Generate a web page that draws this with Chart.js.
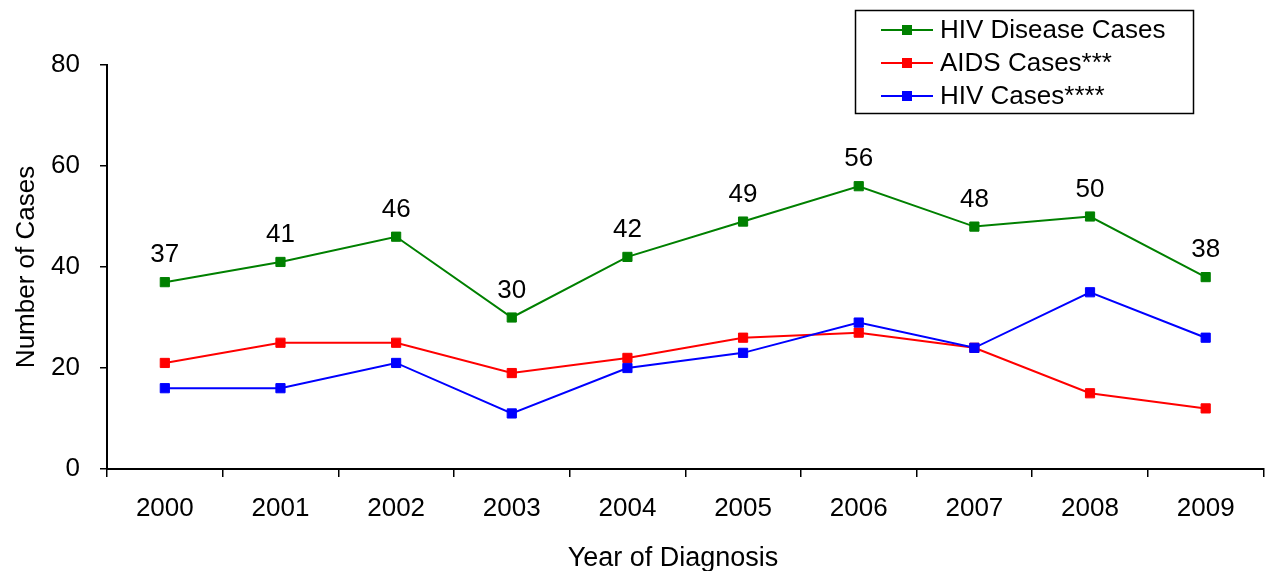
<!DOCTYPE html>
<html>
<head>
<meta charset="utf-8">
<title>HIV Disease, AIDS and HIV Cases by Year of Diagnosis</title>
<script src="https://cdn.jsdelivr.net/npm/chart.js@4/dist/chart.umd.min.js"></script>
<style>
  html, body { margin: 0; padding: 0; background: #ffffff; }
  #wrap { width: 1271px; height: 571px; }
</style>
</head>
<body>
<div id="wrap"><canvas id="chart" width="1271" height="571"></canvas></div>
<script>
// Year of diagnosis
const years = ['2000', '2001', '2002', '2003', '2004', '2005', '2006', '2007', '2008', '2009'];

// Case counts per year
const hivDiseaseCases = [37, 41, 46, 30, 42, 49, 56, 48, 50, 38];
const aidsCases       = [21, 25, 25, 19, 22, 26, 27, 24, 15, 12];
const hivCases        = [16, 16, 21, 11, 20, 23, 29, 24, 35, 26];

const seriesNames = ['HIV Disease Cases', 'AIDS Cases***', 'HIV Cases****'];
const seriesColors = ['#008000', '#ff0000', '#0000ff'];

const yTicks = [0, 20, 40, 60, 80];
const xTitle = 'Year of Diagnosis';
const yTitle = 'Number of Cases';

const FONT = '"Liberation Sans", Arial, Helvetica, sans-serif';
const FS = 26;

function makeSet(label, data, color, order) {
  return {
    label: label,
    data: data,
    borderColor: color,
    backgroundColor: color,
    borderWidth: 2,
    pointStyle: 'rect',
    pointRadius: 6.5,
    pointHoverRadius: 6.5,
    pointBorderWidth: 1,
    pointBorderColor: color,
    pointBackgroundColor: color,
    tension: 0,
    order: order
  };
}

// Value labels above the HIV Disease series
const valueLabels = {
  id: 'valueLabels',
  afterDatasetsDraw(chart) {
    const ctx = chart.ctx;
    const meta = chart.getDatasetMeta(0);
    const values = chart.data.datasets[0].data;
    ctx.save();
    ctx.font = FS + 'px ' + FONT;
    ctx.fillStyle = '#000000';
    ctx.textAlign = 'center';
    ctx.textBaseline = 'alphabetic';
    meta.data.forEach((pt, i) => {
      ctx.fillText(String(values[i]), pt.x, pt.y - 20);
    });
    ctx.restore();
  }
};

// Axis titles and the boxed legend
const decorations = {
  id: 'decorations',
  afterDraw(chart) {
    const ctx = chart.ctx;
    ctx.save();
    ctx.fillStyle = '#000000';

    // x axis title
    ctx.font = '27px ' + FONT;
    ctx.textAlign = 'center';
    ctx.textBaseline = 'alphabetic';
    ctx.fillText(xTitle, 673, 566);

    // y axis title
    ctx.font = FS + 'px ' + FONT;
    ctx.save();
    const area = chart.chartArea;
    ctx.translate(34, (area.top + area.bottom) / 2);
    ctx.rotate(-Math.PI / 2);
    ctx.textAlign = 'center';
    ctx.fillText(yTitle, 0, 0);
    ctx.restore();

    // legend box
    ctx.lineWidth = 1.5;
    ctx.strokeStyle = '#000000';
    ctx.strokeRect(855.5, 10.5, 338, 103);

    const rows = [30, 63, 96];
    chart.data.datasets.forEach((ds, i) => {
      const y = rows[i];
      ctx.strokeStyle = ds.borderColor;
      ctx.lineWidth = 2;
      ctx.beginPath();
      ctx.moveTo(881, y);
      ctx.lineTo(933, y);
      ctx.stroke();
      ctx.fillStyle = ds.borderColor;
      ctx.fillRect(902, y - 5, 10, 10);
      ctx.fillStyle = '#000000';
      ctx.textAlign = 'left';
      ctx.textBaseline = 'middle';
      ctx.fillText(ds.label, 940, y + 1);
    });
    ctx.restore();
  }
};

new Chart(document.getElementById('chart'), {
  type: 'line',
  data: {
    labels: years,
    datasets: [
      makeSet(seriesNames[0], hivDiseaseCases, seriesColors[0], 3),
      makeSet(seriesNames[1], aidsCases, seriesColors[1], 2),
      makeSet(seriesNames[2], hivCases, seriesColors[2], 1)
    ]
  },
  options: {
    responsive: false,
    animation: false,
    devicePixelRatio: 1,
    layout: { padding: { left: 0, top: 65, right: 1, bottom: 0 } },
    plugins: {
      legend: { display: false },
      tooltip: { enabled: false },
      title: { display: false }
    },
    scales: {
      x: {
        type: 'category',
        offset: true,
        afterFit(scale) { scale.height = 102; },
        grid: {
          display: true,
          offset: true,
          drawOnChartArea: false,
          drawTicks: true,
          tickLength: 8,
          color: '#000000',
          lineWidth: 1.5
        },
        border: { display: true, color: '#000000', width: 2 },
        ticks: {
          color: '#000000',
          font: { family: FONT, size: FS },
          padding: 16,
          maxRotation: 0,
          autoSkip: false
        },
        title: { display: false }
      },
      y: {
        type: 'linear',
        min: yTicks[0],
        max: yTicks[yTicks.length - 1],
        afterFit(scale) { scale.width = 107; },
        afterBuildTicks(scale) { scale.ticks = yTicks.map(v => ({ value: v })); },
        grid: {
          display: true,
          drawOnChartArea: false,
          drawTicks: true,
          tickLength: 7,
          color: '#000000',
          lineWidth: 1.5
        },
        border: { display: true, color: '#000000', width: 2 },
        ticks: {
          color: '#000000',
          font: { family: FONT, size: FS },
          padding: 20
        },
        title: { display: false }
      }
    }
  },
  plugins: [valueLabels, decorations]
});
</script>
</body>
</html>
